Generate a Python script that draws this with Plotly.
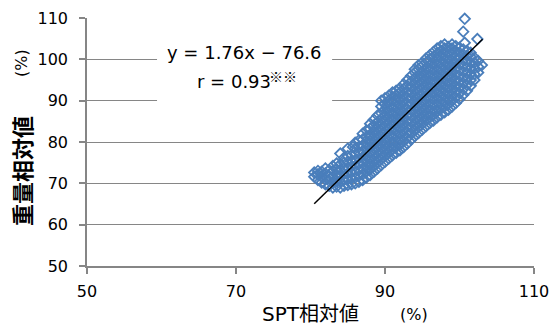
import plotly.graph_objects as go

# SPT relative value (%) columns and the weight relative values (%) read at each column
spt_cols = [80.5, 81.0, 81.5, 82.0, 82.5, 83.0, 83.5, 84.0, 84.5, 85.0, 85.5, 86.0, 86.5,
            87.0, 87.5, 88.0, 88.5, 89.0, 89.5, 90.0, 90.5, 91.0, 91.5, 92.0, 92.5, 93.0,
            93.5, 94.0, 94.5, 95.0, 95.5, 96.0, 96.5, 97.0, 97.5, 98.0, 98.5, 99.0, 99.5,
            100.0, 100.5, 101.0, 101.5, 102.0, 102.5, 103.0]
weight_cols = [
    [71.6, 72.6],
    [70.8, 72.2, 73.0],
    [70.2, 71.5, 72.8],
    [69.8, 71.0, 72.4, 73.6],
    [69.4, 70.6, 71.8, 73.2],
    [69.0, 70.3, 71.6, 73.0, 74.2],
    [69.2, 70.6, 72.0, 73.4, 74.8],
    [69.0, 70.4, 71.8, 73.2, 74.6, 77.2],
    [69.4, 70.8, 72.2, 73.6, 75.0, 76.2],
    [69.6, 71.0, 72.4, 73.8, 75.2, 76.6, 78.4],
    [69.8, 71.2, 72.6, 74.0, 75.4, 76.8],
    [70.0, 71.4, 72.8, 74.2, 75.6, 77.0, 78.4, 79.8],
    [70.4, 71.8, 73.2, 74.6, 76.0, 77.4, 78.8, 80.4],
    [70.8, 72.2, 73.6, 75.0, 76.4, 77.8, 79.2, 80.6, 82.0],
    [71.4, 72.8, 74.2, 75.6, 77.0, 78.4, 79.8, 81.2, 82.8],
    [72.0, 73.4, 74.8, 76.2, 77.6, 79.0, 80.4, 81.8, 83.2, 84.4],
    [72.8, 74.2, 75.6, 77.0, 78.4, 79.8, 81.2, 82.6, 84.0, 85.4],
    [73.6, 75.0, 76.4, 77.8, 79.2, 80.6, 82.0, 83.4, 84.8, 86.4],
    [74.4, 75.8, 77.2, 78.6, 80.0, 81.4, 82.8, 84.2, 85.6, 87.0, 88.6, 90.0],
    [75.2, 76.6, 78.0, 79.4, 80.8, 82.2, 83.6, 85.0, 86.4, 87.8, 89.2, 90.6],
    [76.0, 77.4, 78.8, 80.2, 81.6, 83.0, 84.4, 85.8, 87.2, 88.6, 90.0, 91.2],
    [76.8, 78.2, 79.6, 81.0, 82.4, 83.8, 85.2, 86.6, 88.0, 89.4, 90.8, 92.0],
    [77.4, 78.8, 80.2, 81.6, 83.0, 84.4, 85.8, 87.2, 88.6, 90.0, 91.4, 92.4],
    [78.0, 79.4, 80.8, 82.2, 83.6, 85.0, 86.4, 87.8, 89.2, 90.6, 92.0, 93.0],
    [78.8, 80.2, 81.6, 83.0, 84.4, 85.8, 87.2, 88.6, 90.0, 91.4, 92.8, 94.0],
    [79.6, 81.0, 82.4, 83.8, 85.2, 86.6, 88.0, 89.4, 90.8, 92.2, 93.6, 95.0],
    [80.6, 82.0, 83.4, 84.8, 86.2, 87.6, 89.0, 90.4, 91.8, 93.2, 94.6, 96.0],
    [81.4, 82.8, 84.2, 85.6, 87.0, 88.4, 89.8, 91.2, 92.6, 94.0, 95.4, 96.8, 97.6],
    [82.2, 83.6, 85.0, 86.4, 87.8, 89.2, 90.6, 92.0, 93.4, 94.8, 96.2, 97.6, 98.6],
    [83.0, 84.4, 85.8, 87.2, 88.6, 90.0, 91.4, 92.8, 94.2, 95.6, 97.0, 98.4, 99.2],
    [83.8, 85.2, 86.6, 88.0, 89.4, 90.8, 92.2, 93.6, 95.0, 96.4, 97.8, 99.2, 100.2],
    [84.6, 86.0, 87.4, 88.8, 90.2, 91.6, 93.0, 94.4, 95.8, 97.2, 98.6, 100.0, 101.0],
    [85.2, 86.6, 88.0, 89.4, 90.8, 92.2, 93.6, 95.0, 96.4, 97.8, 99.2, 100.6, 101.8],
    [86.0, 87.4, 88.8, 90.2, 91.6, 93.0, 94.4, 95.8, 97.2, 98.6, 100.0, 101.4, 102.6],
    [86.6, 88.0, 89.4, 90.8, 92.2, 93.6, 95.0, 96.4, 97.8, 99.2, 100.6, 102.0, 103.2],
    [87.2, 88.6, 90.0, 91.4, 92.8, 94.2, 95.6, 97.0, 98.4, 99.8, 101.2, 102.6, 103.6],
    [87.8, 89.2, 90.6, 92.0, 93.4, 94.8, 96.2, 97.6, 99.0, 100.4, 101.8, 103.0],
    [88.6, 90.0, 91.4, 92.8, 94.2, 95.6, 97.0, 98.4, 99.8, 101.2, 102.6, 103.6],
    [89.4, 90.8, 92.2, 93.6, 95.0, 96.4, 97.8, 99.2, 100.6, 102.0, 103.2],
    [90.4, 91.8, 93.2, 94.6, 96.0, 97.4, 98.8, 100.2, 101.6, 102.8],
    [91.4, 92.8, 94.2, 95.6, 97.0, 98.4, 99.8, 101.2, 102.4],
    [92.4, 93.8, 95.2, 96.6, 98.0, 99.4, 100.8, 102.0],
    [93.6, 95.0, 96.4, 97.8, 99.2, 100.6, 101.6],
    [95.0, 96.4, 97.8, 99.2, 100.4],
    [96.8, 98.2, 99.6],
    [98.6],
]
# isolated points
spt_out = [100.7, 100.5, 100.7, 102.4, 85.7]
weight_out = [109.8, 106.7, 104.0, 104.9, 78.8]

# regression y = 1.76x - 76.6, drawn over the data's x range
slope = 1.76
intercept = -76.6
fit_x = [80.5, 103.1]

x_ticks = [50, 70, 90, 110]
y_ticks = [50, 60, 70, 80, 90, 100, 110]

spt = []
weight = []
for xv, ys in zip(spt_cols, weight_cols):
    for yv in ys:
        spt.append(xv)
        weight.append(yv)
spt += spt_out
weight += weight_out

fit_y = [slope * v + intercept for v in fit_x]

FONT = "DejaVu Sans, Noto Sans CJK JP, sans-serif"
JFONT = "Noto Sans CJK JP, DejaVu Sans, sans-serif"
BLUE = "#4a7ebb"
GRID = "#868686"

L, R, T, B = 87, 17, 18, 59
W, H = 551, 325
pw = W - L - R
ph = H - T - B


def px_x(p):
    return (p - L) / pw


def px_y(p):
    return (H - B - p) / ph


def label(text, cx, cy, size, family=FONT, angle=0, weight="normal"):
    return dict(text=text, x=px_x(cx), y=px_y(cy), xref="paper", yref="paper",
                xanchor="center", yanchor="middle", showarrow=False, textangle=angle,
                font=dict(size=size, family=family, color="black", weight=weight))


fig = go.Figure()
fig.add_trace(go.Scatter(
    x=spt, y=weight, mode="markers", cliponaxis=False,
    marker=dict(symbol="diamond-open", size=8, color=BLUE, line=dict(width=1.8, color=BLUE)),
    showlegend=False, hoverinfo="skip"))
fig.add_trace(go.Scatter(
    x=fit_x, y=fit_y, mode="lines",
    line=dict(color="black", width=1.5), showlegend=False, hoverinfo="skip"))

fig.update_layout(
    width=W, height=H,
    margin=dict(l=L, r=R, t=T, b=B, autoexpand=False),
    paper_bgcolor="white", plot_bgcolor="white",
    font=dict(family=FONT, size=16, color="black"),
    xaxis=dict(range=[50, 110], tickvals=x_ticks, showgrid=False, zeroline=False,
               showline=True, linecolor=GRID, linewidth=1.5, automargin=False,
               ticks="outside", ticklen=6, tickcolor=GRID, tickwidth=1.5,
               ticklabelstandoff=4,
               tickfont=dict(size=16, family=FONT)),
    yaxis=dict(range=[50, 110], tickvals=y_ticks, showgrid=True, gridcolor=GRID, gridwidth=1.3,
               zeroline=False, showline=True, linecolor=GRID, linewidth=1.5, automargin=False,
               ticks="outside", ticklen=6, tickcolor=GRID, tickwidth=1.5,
               ticklabelstandoff=8,
               tickfont=dict(size=16, family=FONT)),
    shapes=[dict(type="rect", xref="x", yref="y", x0=59.4, x1=82.9, y0=87, y1=106,
                 fillcolor="white", line=dict(width=0), layer="above")],
    annotations=[
        label("y = 1.76x − 76.6", 244, 52, 18),
        label("r = 0.93", 234, 81, 18),
        label("※※", 283, 76, 14, JFONT, 0, "bold"),
        label("SPT相対値", 310, 314, 20),
        label("(%)", 414, 314, 16),
        label("重量相対値", 21, 171, 22, JFONT, -90, "bold"),
        label("(%)", 22, 63, 16, FONT, -90),
    ],
)

fig.write_html("out.html", config={"displayModeBar": False},
               post_script="document.body.style.margin='0';document.body.style.overflow='hidden';")
